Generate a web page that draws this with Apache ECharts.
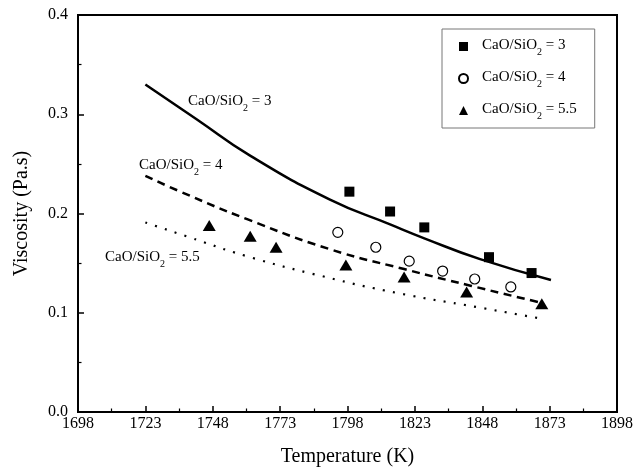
<!DOCTYPE html>
<html>
<head>
<meta charset="utf-8">
<script src="https://cdn.jsdelivr.net/npm/echarts@6/dist/echarts.min.js"></script>
<style>
  html, body { margin: 0; padding: 0; background: #fff; }
  #chart { width: 633px; height: 468px; }
</style>
</head>
<body>
<div id="chart"></div>
<script>
// measured points
const squareT = [1798.7, 1813.8, 1826.5, 1850.5, 1866.3]
const squareV = [0.222, 0.202, 0.186, 0.156, 0.140]
const circleT = [1794.4, 1808.5, 1820.9, 1833.3, 1845.2, 1858.6]
const circleV = [0.181, 0.166, 0.152, 0.142, 0.134, 0.126]
const triangleT = [1746.7, 1761.9, 1771.5, 1797.4, 1819.0, 1842.2, 1870.1]
const triangleV = [0.188, 0.177, 0.166, 0.148, 0.136, 0.121, 0.109]

// model curves
const curve3T = [1723, 1742, 1762, 1791.5, 1813.8, 1826.5, 1847.2, 1873.5]
const curve3V = [0.330, 0.295, 0.258, 0.214, 0.189, 0.175, 0.154, 0.133]
const curve4T = [1723, 1736, 1761, 1791.5, 1819, 1844, 1870]
const curve4V = [0.238, 0.222, 0.194, 0.164, 0.144, 0.127, 0.110]
const curve55T = [1723, 1738.3, 1760.6, 1788.4, 1816.3, 1846.5, 1870]
const curve55V = [0.191, 0.177, 0.157, 0.137, 0.120, 0.1055, 0.094]

const names = ['CaO/SiO2 = 3', 'CaO/SiO2 = 4', 'CaO/SiO2 = 5.5']
const xTicks = [1698, 1898, 25]
const yTicks = [0, 0.4, 0.1]

const FONT = '"Liberation Serif", "DejaVu Serif", serif'

function pairs(xs, ys) {
  return xs.map((x, i) => [x, ys[i]])
}

// "CaO/SiO2 = 3" -> rich text with subscript 2
function sub(name) {
  const rest = name.replace('CaO/SiO2', '')
  return '{a|CaO/SiO}{s|2}{a|' + rest + '}'
}

const rich = {
  a: { fontFamily: FONT, fontSize: 15, color: '#000', lineHeight: 17, verticalAlign: 'top' },
  s: { fontFamily: FONT, fontSize: 10, color: '#000', lineHeight: 10, verticalAlign: 'top', padding: [9, 0, 0, 0] },
  g: { width: 9, lineHeight: 17, verticalAlign: 'top' }
}

const chart = echarts.init(document.getElementById('chart'), null, { renderer: 'canvas' })

const axisCommon = {
  axisLine: { show: true, lineStyle: { color: '#000', width: 2 } },
  axisTick: { show: true, inside: true, length: 6, lineStyle: { color: '#000', width: 1.5 } },
  minorTick: { show: true, splitNumber: 2, length: 3.5, lineStyle: { color: '#000', width: 1.2 } },
  splitLine: { show: false },
  nameTextStyle: { fontFamily: FONT, fontSize: 20, color: '#000' },
  nameLocation: 'middle'
}

chart.setOption({
  animation: false,
  backgroundColor: '#fff',
  grid: {
    left: 78, right: 16, top: 15, bottom: 56,
    outerBoundsMode: 'none',
    show: true, borderColor: '#000', borderWidth: 2
  },
  xAxis: Object.assign({}, axisCommon, {
    type: 'value',
    min: xTicks[0],
    max: xTicks[1],
    interval: xTicks[2],
    name: 'Temperature (K)',
    nameGap: 35,
    axisLabel: {
      fontFamily: FONT, fontSize: 16, color: '#000', margin: 4,
      formatter: v => String(v)
    }
  }),
  yAxis: Object.assign({}, axisCommon, {
    type: 'value',
    min: yTicks[0],
    max: yTicks[1],
    interval: yTicks[2],
    name: 'Viscosity (Pa.s)',
    nameGap: 46,
    axisLabel: {
      fontFamily: FONT, fontSize: 16, color: '#000', margin: 10,
      formatter: v => v.toFixed(1)
    }
  }),
  legend: {
    orient: 'vertical',
    left: 442,
    top: 29,
    padding: [9, 18, 7, 16],
    itemGap: 13,
    itemWidth: 9,
    itemHeight: 9,
    borderColor: '#777',
    borderWidth: 1,
    textStyle: { rich: rich },
    formatter: name => '{g| }' + sub(name),
    data: [
      { name: names[0], icon: 'rect' },
      { name: names[1], icon: 'circle' },
      { name: names[2], icon: 'triangle' }
    ]
  },
  graphic: [
    { type: 'text', left: 188, top: 94, style: { text: sub(names[0]), rich: rich } },
    { type: 'text', left: 139, top: 158, style: { text: sub(names[1]), rich: rich } },
    { type: 'text', left: 105, top: 250, style: { text: sub(names[2]), rich: rich } }
  ],
  series: [
    {
      name: 'model 3', type: 'line', smooth: 0.5, showSymbol: false, silent: true,
      lineStyle: { color: '#000', width: 2.5 },
      data: pairs(curve3T, curve3V)
    },
    {
      name: 'model 4', type: 'line', smooth: 0.5, showSymbol: false, silent: true,
      lineStyle: { color: '#000', width: 2.5, type: [8, 5.5] },
      data: pairs(curve4T, curve4V)
    },
    {
      name: 'model 5.5', type: 'line', smooth: 0.5, showSymbol: false, silent: true,
      lineStyle: { color: '#000', width: 2.2, type: [2, 8.3] },
      data: pairs(curve55T, curve55V)
    },
    {
      name: names[0], type: 'scatter', symbol: 'rect', symbolSize: 10,
      itemStyle: { color: '#000', opacity: 1 },
      data: pairs(squareT, squareV)
    },
    {
      name: names[1], type: 'scatter', symbol: 'circle', symbolSize: 10,
      itemStyle: { color: '#fff', borderColor: '#000', borderWidth: 1.2, opacity: 1 },
      data: pairs(circleT, circleV)
    },
    {
      name: names[2], type: 'scatter', symbol: 'triangle', symbolSize: [13, 11],
      itemStyle: { color: '#000', opacity: 1 },
      data: pairs(triangleT, triangleV)
    }
  ]
})
</script>
</body>
</html>
